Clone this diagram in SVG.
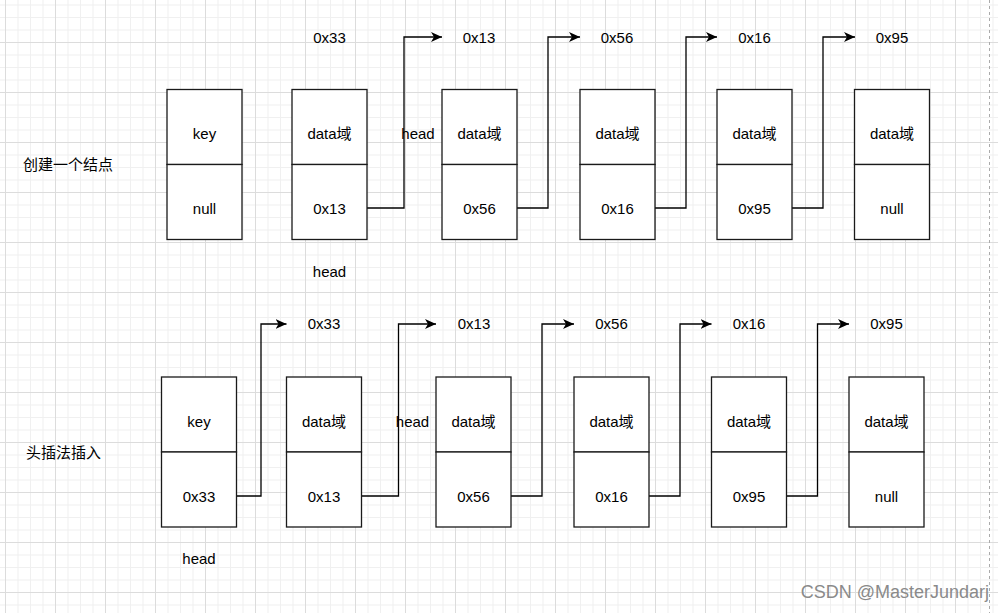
<svg xmlns="http://www.w3.org/2000/svg" width="998" height="613" viewBox="0 0 998 613">
<style>
.cell{fill:#fff;stroke:#1a1a1a;stroke-width:1.3}
.t{font-family:"Liberation Sans","Noto Sans CJK SC",Arial,sans-serif;font-size:15px;fill:#000;text-anchor:middle}
.tl{font-family:"Liberation Sans","Noto Sans CJK SC",sans-serif;font-size:15px;fill:#000}
.conn{fill:none;stroke:#000;stroke-width:1.3}
</style>
<defs>
<pattern id="grid" patternUnits="userSpaceOnUse" x="5" y="42" width="50" height="50">
<rect x="0" y="0" width="50" height="50" fill="#fff"/>
<rect x="12.5" y="0" width="1" height="50" fill="#f0f0f0"/>
<rect x="25" y="0" width="1" height="50" fill="#f0f0f0"/>
<rect x="37.5" y="0" width="1" height="50" fill="#f0f0f0"/>
<rect x="0" y="12.5" width="50" height="1" fill="#f0f0f0"/>
<rect x="0" y="25" width="50" height="1" fill="#f0f0f0"/>
<rect x="0" y="37.5" width="50" height="1" fill="#f0f0f0"/>
<rect x="0" y="0" width="1" height="50" fill="#dcdcdc"/>
<rect x="0" y="0" width="50" height="1" fill="#dcdcdc"/>
</pattern>
<marker id="arr" markerUnits="userSpaceOnUse" markerWidth="14" markerHeight="12" refX="11" refY="5" orient="auto" viewBox="0 0 14 12">
<path d="M11,5 L0,0 L3,5 L0,10 Z" fill="#000"/>
</marker>
</defs>
<rect width="998" height="613" fill="url(#grid)"/>
<line x1="989.5" y1="0" x2="989.5" y2="613" stroke="#aaa" stroke-width="1" stroke-dasharray="3,3"/>

<text class="tl" x="23" y="170">创建一个结点</text>
<text class="tl" x="26" y="458">头插法插入</text>

<g id="connectors">
<polyline class="conn" points="367,208 404,208 404,37 442,37" marker-end="url(#arr)"/>
<polyline class="conn" points="517,208 548,208 548,37 580,37" marker-end="url(#arr)"/>
<polyline class="conn" points="655,208 686,208 686,37 717,37" marker-end="url(#arr)"/>
<polyline class="conn" points="792,208 823,208 823,37 855,37" marker-end="url(#arr)"/>
<polyline class="conn" points="236.5,496 261,496 261,324 286.5,324" marker-end="url(#arr)"/>
<polyline class="conn" points="361.5,496 398.5,496 398.5,324 436,324" marker-end="url(#arr)"/>
<polyline class="conn" points="511,496 542,496 542,324 574,324" marker-end="url(#arr)"/>
<polyline class="conn" points="649,496 680,496 680,324 711.5,324" marker-end="url(#arr)"/>
<polyline class="conn" points="786.5,496 817.5,496 817.5,324 849,324" marker-end="url(#arr)"/>
</g>

<!-- Row 1 -->
<g id="r1n1">
<rect class="cell" x="167" y="89.5" width="75" height="75"/>
<rect class="cell" x="167" y="164.5" width="75" height="75"/>
<text class="t" x="204.5" y="139">key</text>
<text class="t" x="204.5" y="213.5">null</text>
</g>
<g id="r1n2">
<rect class="cell" x="292" y="89.5" width="75" height="75"/>
<rect class="cell" x="292" y="164.5" width="75" height="75"/>
<text class="t" x="329.5" y="139">data域</text>
<text class="t" x="329.5" y="213.5">0x13</text>
</g>
<g id="r1n3">
<rect class="cell" x="442" y="89.5" width="75" height="75"/>
<rect class="cell" x="442" y="164.5" width="75" height="75"/>
<text class="t" x="479.5" y="139">data域</text>
<text class="t" x="479.5" y="213.5">0x56</text>
</g>
<g id="r1n4">
<rect class="cell" x="580" y="89.5" width="75" height="75"/>
<rect class="cell" x="580" y="164.5" width="75" height="75"/>
<text class="t" x="617.5" y="139">data域</text>
<text class="t" x="617.5" y="213.5">0x16</text>
</g>
<g id="r1n5">
<rect class="cell" x="717" y="89.5" width="75" height="75"/>
<rect class="cell" x="717" y="164.5" width="75" height="75"/>
<text class="t" x="754.5" y="139">data域</text>
<text class="t" x="754.5" y="213.5">0x95</text>
</g>
<g id="r1n6">
<rect class="cell" x="854.5" y="89.5" width="75" height="75"/>
<rect class="cell" x="854.5" y="164.5" width="75" height="75"/>
<text class="t" x="892" y="139">data域</text>
<text class="t" x="892" y="213.5">null</text>
</g>
<g id="r1labels">
<text class="t" x="329.5" y="42.5">0x33</text>
<text class="t" x="479" y="42.5">0x13</text>
<text class="t" x="617" y="42.5">0x56</text>
<text class="t" x="754.5" y="42.5">0x16</text>
<text class="t" x="892" y="42.5">0x95</text>
<text class="t" x="418" y="138.5">head</text>
<text class="t" x="329.5" y="276.5">head</text>
</g>

<!-- Row 2 -->
<g id="r2n1">
<rect class="cell" x="161.5" y="377" width="75" height="75"/>
<rect class="cell" x="161.5" y="452" width="75" height="75"/>
<text class="t" x="199" y="427">key</text>
<text class="t" x="199" y="501.5">0x33</text>
</g>
<g id="r2n2">
<rect class="cell" x="286.5" y="377" width="75" height="75"/>
<rect class="cell" x="286.5" y="452" width="75" height="75"/>
<text class="t" x="324" y="427">data域</text>
<text class="t" x="324" y="501.5">0x13</text>
</g>
<g id="r2n3">
<rect class="cell" x="436" y="377" width="75" height="75"/>
<rect class="cell" x="436" y="452" width="75" height="75"/>
<text class="t" x="473.5" y="427">data域</text>
<text class="t" x="473.5" y="501.5">0x56</text>
</g>
<g id="r2n4">
<rect class="cell" x="574" y="377" width="75" height="75"/>
<rect class="cell" x="574" y="452" width="75" height="75"/>
<text class="t" x="611.5" y="427">data域</text>
<text class="t" x="611.5" y="501.5">0x16</text>
</g>
<g id="r2n5">
<rect class="cell" x="711.5" y="377" width="75" height="75"/>
<rect class="cell" x="711.5" y="452" width="75" height="75"/>
<text class="t" x="749" y="427">data域</text>
<text class="t" x="749" y="501.5">0x95</text>
</g>
<g id="r2n6">
<rect class="cell" x="849" y="377" width="75" height="75"/>
<rect class="cell" x="849" y="452" width="75" height="75"/>
<text class="t" x="886.5" y="427">data域</text>
<text class="t" x="886.5" y="501.5">null</text>
</g>
<g id="r2labels">
<text class="t" x="324" y="328.5">0x33</text>
<text class="t" x="474" y="328.5">0x13</text>
<text class="t" x="611.5" y="328.5">0x56</text>
<text class="t" x="749" y="328.5">0x16</text>
<text class="t" x="886.5" y="328.5">0x95</text>
<text class="t" x="412.5" y="427">head</text>
<text class="t" x="199" y="563.5">head</text>
</g>

<text x="989" y="598" font-family="Liberation Sans,Arial,sans-serif" font-size="18" fill="#8a8a8a" text-anchor="end">CSDN @MasterJundarj</text>
</svg>
